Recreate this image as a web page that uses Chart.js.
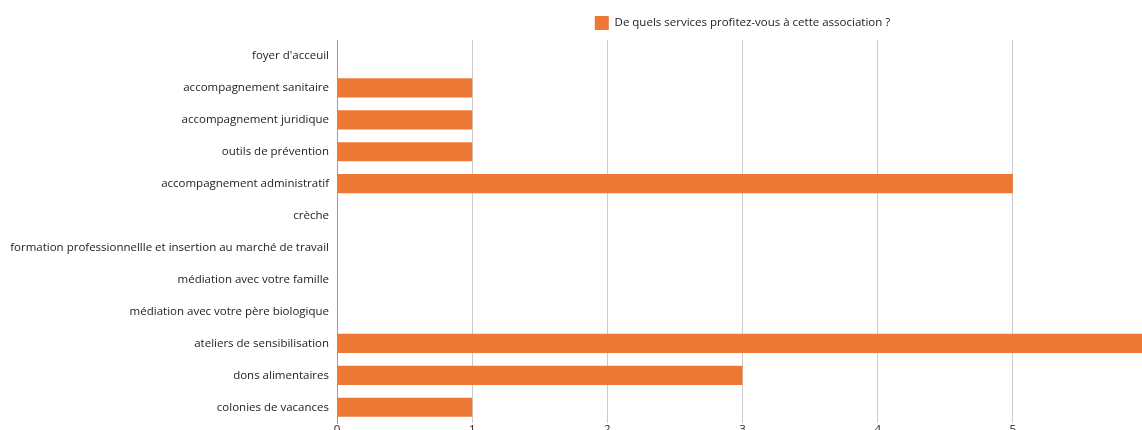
<!DOCTYPE html>
<html>
<head>
<meta charset="utf-8">
<script src="https://cdn.jsdelivr.net/npm/chart.js@4/dist/chart.umd.min.js"></script>
<style>
    body { margin: 0; overflow: hidden; background: #fff; }
    #chart-container { position: relative; width: 1160px; height: 445px; }
</style>
</head>
<body>
<div id="chart-container">
    <canvas id="bar-chart"></canvas>
</div>
<script>
// services cités et nombre de réponses
const services = [
    "foyer d'acceuil",
    'accompagnement sanitaire',
    'accompagnement juridique',
    'outils de prévention',
    'accompagnement administratif',
    'crèche',
    'formation professionnellle et insertion au marché de travail',
    'médiation avec votre famille',
    'médiation avec votre père biologique',
    'ateliers de sensibilisation',
    'dons alimentaires',
    'colonies de vacances'
]
const reponses = [0, 1, 1, 1, 5, 0, 0, 0, 0, 6, 3, 1]
const ticksX = [0, 1, 2, 3, 4, 5, 6]
const serieLabel = 'De quels services profitez-vous à cette association ?'

Chart.defaults.font.family = '"Open Sans", sans-serif'
Chart.defaults.font.size = 11.5
Chart.defaults.color = '#222'

window.addEventListener('load', (event) => {
    const ctx = document.getElementById('bar-chart').getContext('2d')
    const barChart = new Chart(ctx, {
        type: 'bar',
        data: {
            labels: services,
            datasets: [{
                label: serieLabel,
                data: reponses,
                backgroundColor: '#ed7833',
                borderWidth: 0,
                categoryPercentage: 1,
                barPercentage: 0.6
            }]
        },
        options: {
            indexAxis: 'y',
            responsive: true,
            maintainAspectRatio: false,
            animation: false,
            layout: { padding: { top: 8, right: 12, bottom: 8, left: 0 } },
            plugins: {
                legend: {
                    position: 'top',
                    fullSize: false,
                    labels: { boxWidth: 14, boxHeight: 14, padding: 8, color: '#222' }
                },
                tooltip: { enabled: false }
            },
            scales: {
                x: {
                    min: 0,
                    max: ticksX[ticksX.length - 1],
                    afterBuildTicks: (scale) => {
                        scale.ticks = ticksX.map(v => ({ value: v }))
                    },
                    grid: {
                        color: (c) => c.tick && c.tick.value === 0 ? '#999' : '#ccc',
                        drawTicks: false
                    },
                    border: { display: false },
                    ticks: { padding: 0, maxRotation: 0, color: '#222' }
                },
                y: {
                    afterFit: (scale) => { scale.width = 337 },
                    grid: { display: false, drawTicks: false },
                    border: { display: true, color: '#999' },
                    ticks: { padding: 8, color: '#222', autoSkip: false }
                }
            }
        }
    })
})
</script>
</body>
</html>
